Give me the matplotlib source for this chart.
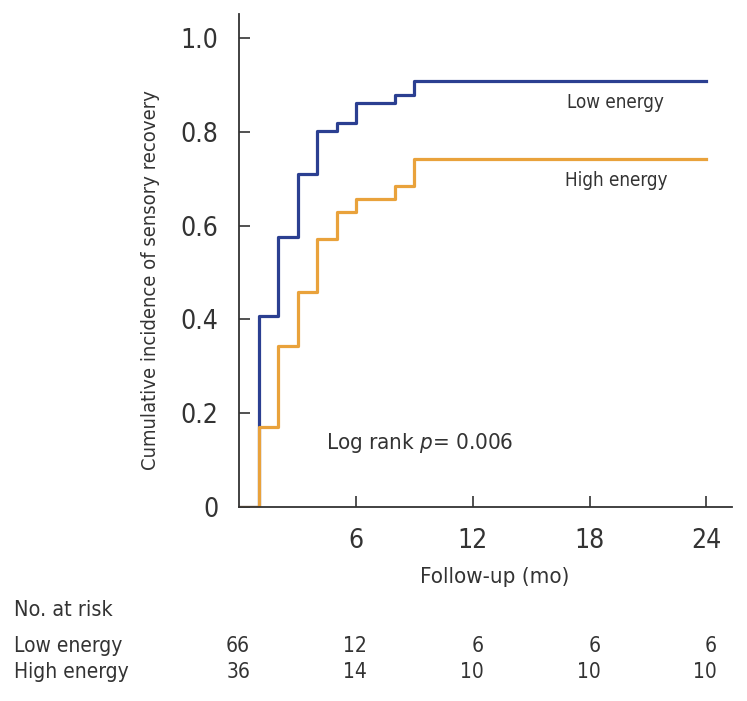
import matplotlib
matplotlib.use("Agg")
import matplotlib.pyplot as plt
import matplotlib.transforms as mtransforms
from matplotlib import font_manager as fm

# the original uses a condensed sans; take one if it is installed
family, stretch, k = 'Liberation Sans', 'normal', 0.88
for f in fm.fontManager.ttflist:
    if 'Narrow' in f.name or 'Condensed' in f.name:
        family, stretch, k = f.name, 'normal', 1.0
        break
    if f.stretch in ('condensed', 'semi-condensed') and f.name in ('DejaVu Sans', 'Noto Sans', 'Open Sans', 'Roboto'):
        family, stretch, k = f.name, f.stretch, 1.0
        break

plt.rcParams['font.family'] = [family, 'DejaVu Sans']
plt.rcParams['font.stretch'] = stretch
plt.rcParams['mathtext.fontset'] = 'custom'
plt.rcParams['mathtext.it'] = family + ':italic'
plt.rcParams['mathtext.rm'] = family

# data
months = [0, 1, 2, 3, 4, 5, 6, 8, 9, 24]
low_energy = [0, 0.408, 0.576, 0.711, 0.802, 0.818, 0.862, 0.878, 0.908, 0.908]
high_energy = [0, 0.171, 0.344, 0.458, 0.571, 0.628, 0.656, 0.685, 0.742, 0.742]

risk_times = [0, 6, 12, 18, 24]
risk_low = [66, 12, 6, 6, 6]
risk_high = [36, 14, 10, 10, 10]

yticks = [0, 0.2, 0.4, 0.6, 0.8, 1.0]
ytick_labels = ['0', '0.2', '0.4', '0.6', '0.8', '1.0']
xticks = [6, 12, 18, 24]

blue = '#2b3f91'
orange = '#e9a23b'
dark = '#333333'

fig = plt.figure(figsize=(7.47, 7.01), dpi=100)
ax = fig.add_axes([0.3204, 0.2767, 0.659, 0.7033])

ax.step(months, low_energy, where='post', color=blue, lw=2.3)
ax.step(months, high_energy, where='post', color=orange, lw=2.3)

ax.set_xlim(0, 25.3)
ax.set_ylim(0, 1.051)
ax.set_xticks(xticks)
ax.set_yticks(yticks)
ax.set_yticklabels(ytick_labels)
ax.tick_params(direction='in', length=8, width=1.2, color=dark, labelcolor=dark, labelsize=19 * k)
ax.tick_params(axis='y', pad=15)
ax.tick_params(axis='x', pad=15)
for s in ['top', 'right']:
    ax.spines[s].set_visible(False)
for s in ['left', 'bottom']:
    ax.spines[s].set_color(dark)
    ax.spines[s].set_linewidth(1.3)

ax.set_ylabel('Cumulative incidence of sensory recovery', fontsize=14.5 * k, color=dark, va='center')
ax.yaxis.set_label_coords(-0.181, 0.46)
ax.set_xlabel('Follow-up (mo)', fontsize=16 * k, color=dark, va='center')
ax.xaxis.set_label_coords(0.519, -0.142)

ax.text(16.84, 0.850, 'Low energy', fontsize=13.5 * k, color=dark, va='baseline')
ax.text(16.75, 0.685, 'High energy', fontsize=13.5 * k, color=dark, va='baseline')
ax.text(4.46, 0.123, 'Log rank $p$= 0.006', fontsize=16 * k, color=dark, va='baseline')

# number at risk table
trans = mtransforms.blended_transform_factory(ax.transData, fig.transFigure)
fig.text(14 / 747, 1 - 615.7 / 701, 'No. at risk', fontsize=15.5 * k, color=dark, va='baseline')
fig.text(14 / 747, 1 - 651.7 / 701, 'Low energy', fontsize=15 * k, color=dark, va='baseline')
fig.text(14 / 747, 1 - 678.3 / 701, 'High energy', fontsize=15 * k, color=dark, va='baseline')
for t, lo, hi in zip(risk_times, risk_low, risk_high):
    ax.text(t + 0.55, 1 - 651.7 / 701, str(lo), transform=trans, fontsize=15 * k,
            color=dark, ha='right', va='baseline', clip_on=False)
    ax.text(t + 0.55, 1 - 678.3 / 701, str(hi), transform=trans, fontsize=15 * k,
            color=dark, ha='right', va='baseline', clip_on=False)

fig.savefig('out.png', dpi=100)
